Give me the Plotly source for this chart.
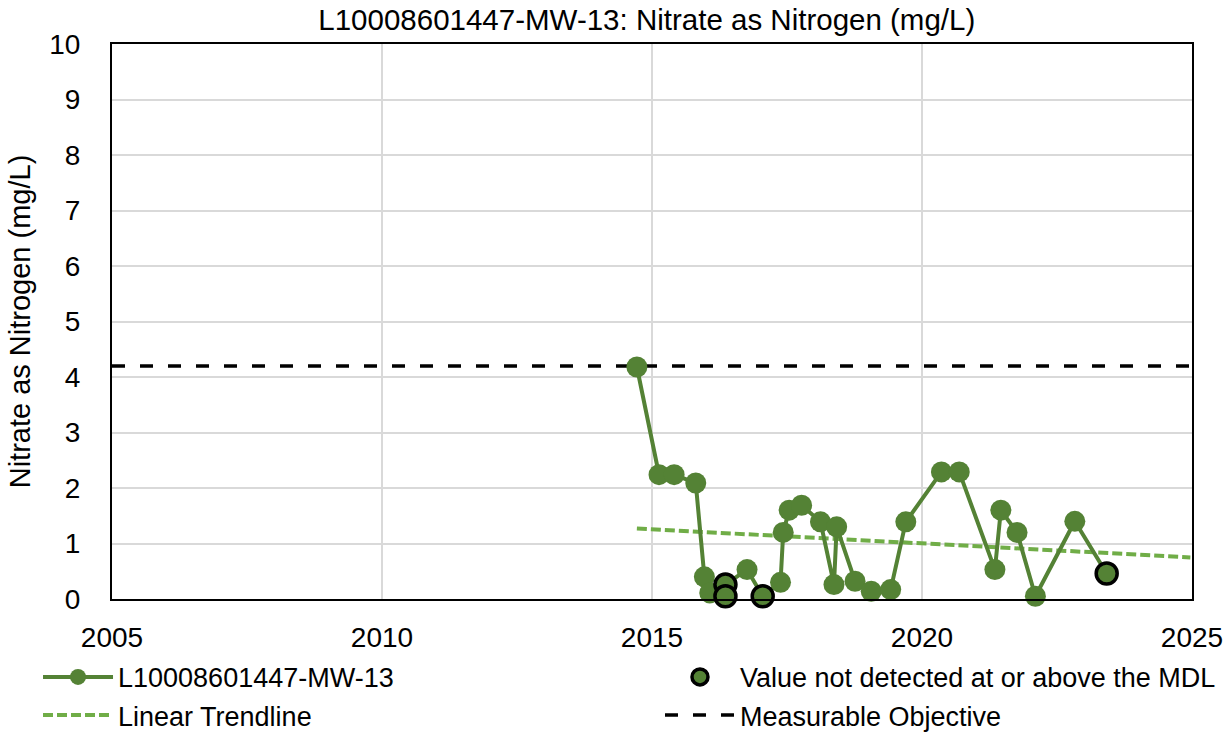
import plotly.graph_objects as go

# ---- data (decimal years, mg/L) ----
sample_dates = [2014.72, 2015.13, 2015.41, 2015.81, 2015.97, 2016.07, 2016.36, 2016.36,
                2016.76, 2017.05, 2017.38, 2017.43, 2017.54, 2017.77, 2018.12, 2018.37,
                2018.42, 2018.76, 2019.06, 2019.42, 2019.70, 2020.36, 2020.69, 2021.35,
                2021.46, 2021.76, 2022.10, 2022.83, 2023.42]
nitrate_values = [4.18, 2.24, 2.24, 2.09, 0.40, 0.11, 0.05, 0.26,
                  0.53, 0.05, 0.30, 1.20, 1.60, 1.69, 1.39, 0.26,
                  1.30, 0.32, 0.14, 0.17, 1.39, 2.29, 2.29, 0.53,
                  1.60, 1.20, 0.05, 1.40, 0.46]
nd_dates = [2016.36, 2016.36, 2017.05, 2023.42]
nd_values = [0.26, 0.05, 0.05, 0.46]
trend_dates = [2014.72, 2024.97]
trend_values = [1.27, 0.75]
objective_dates = [2005, 2025]
objective_values = [4.2, 4.2]
x_ticks = [2005, 2010, 2015, 2020, 2025]
y_ticks = list(range(0, 11))

series_name = "L10008601447-MW-13"
FONT = "Liberation Sans, Arial, sans-serif"
DARK_GREEN = "#548235"
LIGHT_GREEN = "#70AD47"

fig = go.Figure()

fig.add_trace(go.Scatter(
    x=objective_dates, y=objective_values, mode="lines", name="Measurable Objective",
    line=dict(color="black", width=3.5, dash="13px,15px"),
    legend="legend2", legendrank=2))

fig.add_trace(go.Scatter(
    x=trend_dates, y=trend_values, mode="lines", name="Linear Trendline",
    line=dict(color=LIGHT_GREEN, width=4, dash="10px,4px"),
    legend="legend", legendrank=2))

fig.add_trace(go.Scatter(
    x=sample_dates, y=nitrate_values, mode="lines+markers", name=series_name,
    line=dict(color=DARK_GREEN, width=4),
    marker=dict(color=DARK_GREEN, size=21), cliponaxis=False,
    legend="legend", legendrank=1))

fig.add_trace(go.Scatter(
    x=nd_dates, y=nd_values, mode="markers", name="Value not detected at or above the MDL",
    marker=dict(color=DARK_GREEN, size=21, line=dict(color="black", width=3.5)),
    cliponaxis=False, legend="legend2", legendrank=1))

legend_common = dict(orientation="v", yanchor="top", xanchor="left", itemwidth=70,
                     font=dict(family=FONT, size=27, color="black"),
                     bgcolor="rgba(0,0,0,0)", borderwidth=0, tracegroupgap=0)

fig.update_layout(
    width=1232, height=736,
    margin=dict(l=112, r=40, t=44, b=137, autoexpand=False),
    paper_bgcolor="white", plot_bgcolor="white",
    font=dict(family=FONT, size=28, color="black"),
    title=dict(text="L10008601447-MW-13: Nitrate as Nitrogen (mg/L)",
               x=0.525, xanchor="center", y=0.973, yanchor="middle",
               font=dict(family=FONT, size=29.5, color="black")),
    showlegend=True,
    legend=dict(x=-0.0685, y=-0.097, **legend_common),
    legend2=dict(x=0.5074, y=-0.097, **legend_common),
)

fig.update_xaxes(range=[2005, 2025], tickvals=x_ticks, ticktext=[str(v) for v in x_ticks],
                 showgrid=True, gridcolor="#D9D9D9", gridwidth=2,
                 showline=True, linecolor="black", linewidth=2, mirror=True,
                 ticks="outside", ticklen=12, tickcolor="rgba(0,0,0,0)",
                 zeroline=False, tickfont=dict(family=FONT, size=28), automargin=False)
fig.update_yaxes(range=[0, 10], tickvals=y_ticks,
                 showgrid=True, gridcolor="#D9D9D9", gridwidth=2,
                 showline=True, linecolor="black", linewidth=2, mirror=True,
                 ticks="outside", ticklen=24, tickcolor="rgba(0,0,0,0)",
                 zeroline=False, tickfont=dict(family=FONT, size=28), automargin=False,
                 title=dict(text="Nitrate as Nitrogen (mg/L)", standoff=10,
                            font=dict(family=FONT, size=29)))

fig.write_html("out.html",
               config={"displayModeBar": False},
               post_script="document.body.style.margin='0px';document.body.style.overflow='hidden';")
